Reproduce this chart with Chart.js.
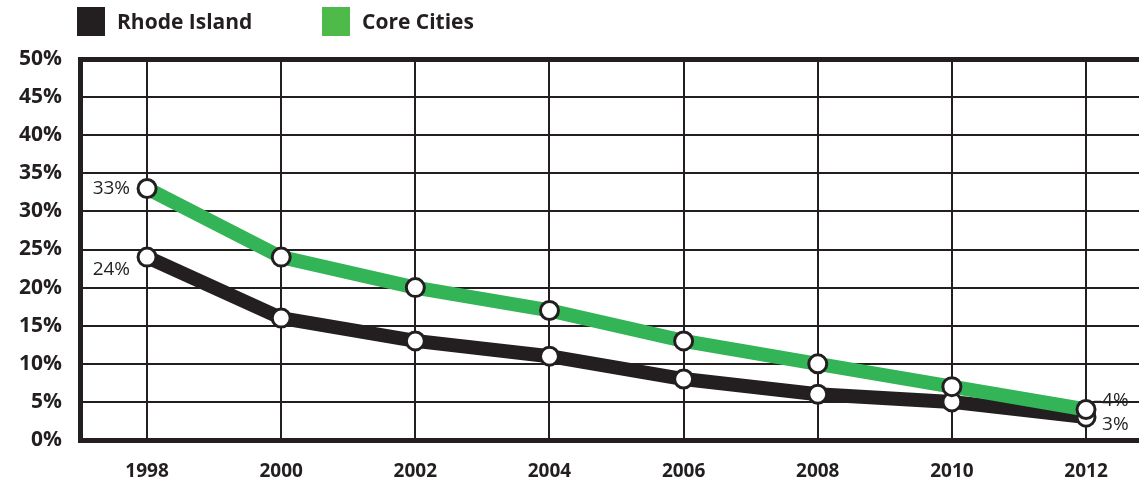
<!DOCTYPE html>
<html>
<head>
<meta charset="utf-8">
<script src="https://cdn.jsdelivr.net/npm/chart.js@4.4.0/dist/chart.umd.min.js"></script>
<style>
  body { margin: 0; background: #fff; }
  #wrap { position: relative; width: 1139px; height: 482px; }
  .key { position: absolute; top: 7px; height: 29px; font: bold 21px "Open Sans", sans-serif; color: #231f20; line-height: 29px; }
  .key span { display: inline-block; width: 28px; height: 29px; vertical-align: top; margin-right: 12px; }
</style>
</head>
<body>
<div id="wrap">
  <canvas id="chart" width="1139" height="482"></canvas>
  <div class="key" style="left:77px"><span style="background:#231f20"></span>Rhode Island</div>
  <div class="key" style="left:322px"><span style="background:#4dba4a"></span>Core Cities</div>
</div>
<script>
// data
const years = [1998, 2000, 2002, 2004, 2006, 2008, 2010, 2012];
const rhodeIsland = [24, 16, 13, 11, 8, 6, 5, 3];
const coreCities = [33, 24, 20, 17, 13, 10, 7, 4];
const yTicks = [0, 5, 10, 15, 20, 25, 30, 35, 40, 45, 50];

const ink = "#231f20";
const green = "#33b456";

const pts = (vals) => years.map((y, i) => ({ x: y, y: vals[i] }));

// end labels: first and last point of each series
const endLabels = {
  id: "endLabels",
  afterDatasetsDraw(chart) {
    const { ctx, scales: { x, y } } = chart;
    const first = years[0], last = years[years.length - 1];
    const n = years.length - 1;
    ctx.save();
    ctx.fillStyle = ink;
    ctx.font = '19px "Open Sans", sans-serif';
    ctx.textBaseline = "middle";
    ctx.textAlign = "right";
    ctx.fillText(coreCities[0] + "%", x.getPixelForValue(first) - 17, y.getPixelForValue(coreCities[0]));
    ctx.fillText(rhodeIsland[0] + "%", x.getPixelForValue(first) - 17, y.getPixelForValue(rhodeIsland[0]) + 12);
    ctx.textAlign = "left";
    const lx = x.getPixelForValue(last);
    ctx.fillText(coreCities[n] + "%", lx + 16, y.getPixelForValue(coreCities[n]) - 9);
    ctx.fillText(rhodeIsland[n] + "%", lx + 16, y.getPixelForValue(rhodeIsland[n]) + 7);
    ctx.strokeStyle = ink;
    ctx.lineWidth = 1.5;
    ctx.beginPath();
    ctx.moveTo(lx + 8, y.getPixelForValue(coreCities[n]) - 8);
    ctx.lineTo(lx + 15, y.getPixelForValue(coreCities[n]) - 8);
    ctx.stroke();
    ctx.restore();
  }
};

new Chart(document.getElementById("chart"), {
  type: "line",
  data: {
    datasets: [
      {
        label: "Core Cities",
        data: pts(coreCities),
        borderColor: green,
        borderWidth: 14,
        pointRadius: 9,
        pointBorderWidth: 3,
        pointBackgroundColor: "#fff",
        pointBorderColor: ink,
        tension: 0,
        order: 0
      },
      {
        label: "Rhode Island",
        data: pts(rhodeIsland),
        borderColor: ink,
        borderWidth: 14,
        pointRadius: 9,
        pointBorderWidth: 3,
        pointBackgroundColor: "#fff",
        pointBorderColor: ink,
        tension: 0,
        order: 1
      }
    ]
  },
  options: {
    responsive: false,
    animation: false,
    clip: false,
    layout: { autoPadding: false, padding: { top: 59, left: 0, right: 0, bottom: 0 } },
    plugins: { legend: { display: false }, tooltip: { enabled: false } },
    scales: {
      x: {
        type: "linear",
        min: 1997,
        max: 2012.79,
        afterBuildTicks: (s) => { s.ticks = years.map(v => ({ value: v })); },
        afterFit: (s) => { s.height = 42; s.paddingRight = 0; s.paddingLeft = 0; },
        grid: { color: ink, lineWidth: 2, drawTicks: false },
        border: { color: ink, width: 5 },
        ticks: {
          color: ink,
          padding: 20,
          font: { family: "Open Sans", weight: "bold", size: 19 },
          callback: (v) => String(v)
        }
      },
      y: {
        min: 0,
        max: 50,
        afterBuildTicks: (s) => { s.ticks = yTicks.map(v => ({ value: v })); },
        afterFit: (s) => { s.width = 80; },
        grid: {
          color: ink,
          lineWidth: (c) => (c.tick && c.tick.value === 50 ? 5 : 2),
          drawTicks: false
        },
        border: { color: ink, width: 5 },
        ticks: {
          color: ink,
          padding: 18,
          font: { family: "Open Sans", weight: "bold", size: 21 },
          callback: (v) => v + "%"
        }
      }
    }
  },
  plugins: [endLabels]
});
</script>
</body>
</html>
